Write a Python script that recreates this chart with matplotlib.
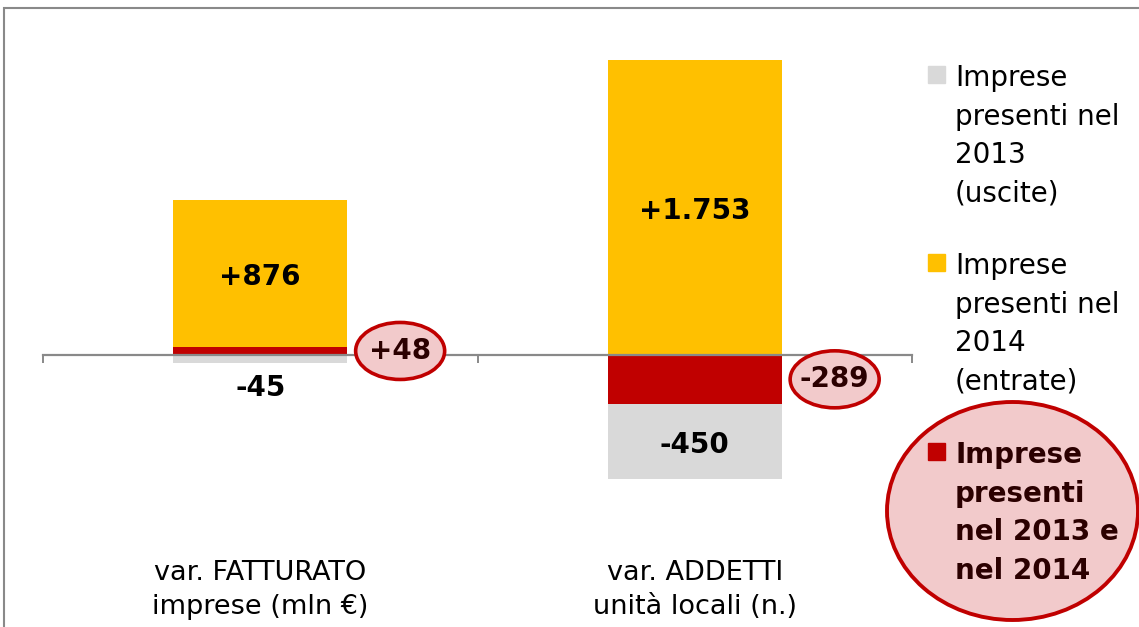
#=========================================================================
# imprese: variazione fatturato e addetti
#=========================================================================

import matplotlib.pyplot as plt
from matplotlib.patches import Rectangle, Ellipse
from matplotlib.transforms import IdentityTransform
import numpy as np

#-------------------------------------------------------------------------
# Raw data
#-------------------------------------------------------------------------

categories = [
  'var. FATTURATO\nimprese (mln \u20ac)',
  'var. ADDETTI\nunit\u00e0 locali (n.)',
]

uscite   = [ -45,  -450 ]   # imprese presenti nel 2013 (uscite)
entrate  = [ 876,  1753 ]   # imprese presenti nel 2014 (entrate)
entrambi = [  48,  -289 ]   # imprese presenti nel 2013 e nel 2014

series_labels = [
  'Imprese\npresenti nel\n2013\n(uscite)',
  'Imprese\npresenti nel\n2014\n(entrate)',
  'Imprese\npresenti\nnel 2013 e\nnel 2014',
]

#-------------------------------------------------------------------------
# Plot parameters
#-------------------------------------------------------------------------

W, H, DPI = 1139, 627, 100

c_grey   = '#d9d9d9'
c_orange = '#ffc000'
c_red    = '#c00000'
c_pink   = '#f2cacb'
c_dark   = '#2b0000'
c_axis   = '#898989'

plt.rcParams['font.family'] = 'DejaVu Sans'

fig = plt.figure( figsize=(W/DPI, H/DPI), dpi=DPI )

# axes placed in pixels: x 43..912, y 20..627 (from top)
ax = fig.add_axes( [ 43/W, 0.0, (912-43)/W, (627-20)/H ] )
px_per_unit = 295.0 / 1753.0
ax.set_xlim( -0.5, 1.5 )
ax.set_ylim( -(627-355)/px_per_unit, (355-20)/px_per_unit )

ind   = np.arange( len(categories) )
width = 0.4

#-------------------------------------------------------------------------
# Stacked bars (entrambi next to zero, then the others)
#-------------------------------------------------------------------------

pos = np.zeros( len(categories) )
neg = np.zeros( len(categories) )
segments = []
for vals, color in [ (entrambi, c_red), (entrate, c_orange), (uscite, c_grey) ]:
  vals = np.array( vals, dtype=float )
  bottom = np.where( vals >= 0, pos, neg )
  ax.bar( ind, vals, width, bottom=bottom, color=color, zorder=1 )
  segments.append( (vals, bottom) )
  pos += np.where( vals >= 0, vals, 0 )
  neg += np.where( vals < 0, vals, 0 )

def fmt( v ):
  return ( '%+d' % v ) if abs(v) < 1000 else \
         ( '%+d' % v )[:-3] + '.' + ( '%+d' % v )[-3:]

fig.canvas.draw()

# labels for entrate / uscite
for vals, bottom in segments[1:]:
  for i, (v, b) in enumerate( zip( vals, bottom ) ):
    seg_px = abs(v) * px_per_unit
    if seg_px > 40:
      ax.annotate( fmt(v), (i, b + v/2), xytext=(0, -4), textcoords='offset pixels',
                   ha='center', va='center', fontsize=20, fontweight='bold',
                   color='black' )
    else:
      ax.annotate( fmt(v), (i, 0), xytext=(0, -33), textcoords='offset pixels',
                   ha='center', va='center', fontsize=20, fontweight='bold',
                   color='black' )

# labels for entrambi, in pink ellipses right of the bar
vals, bottom = segments[0]
for i, (v, b) in enumerate( zip( vals, bottom ) ):
  x_px, y_px = ax.transData.transform( (i + width/2, b + v/2) )
  cx = x_px + 53
  ell = Ellipse( (cx, y_px), 89, 57, transform=IdentityTransform(),
                 facecolor=c_pink, edgecolor=c_red, lw=2.6, zorder=5 )
  fig.add_artist( ell )
  fig.text( cx/W, y_px/H, fmt(v), ha='center', va='center', fontsize=20,
            fontweight='bold', color=c_dark, zorder=6 )

#-------------------------------------------------------------------------
# Axes formatting
#-------------------------------------------------------------------------

for s in [ 'left', 'right', 'top' ]:
  ax.spines[s].set_visible( False )
ax.spines['bottom'].set_position( ('data', 0) )
ax.spines['bottom'].set_color( c_axis )
ax.spines['bottom'].set_linewidth( 1.6 )
ax.set_xticks( [ -0.5, 0.5, 1.5 ] )
ax.set_xticklabels( [] )
ax.tick_params( axis='x', direction='out', length=6, width=1.4, color=c_axis )
ax.set_yticks( [] )
ax.patch.set_visible( False )

# category labels
for i, cat in enumerate( categories ):
  ax.text( i, (627-590)/(627-20), cat, transform=ax.get_xaxis_transform(),
           ha='center', va='center', fontsize=19.5, linespacing=1.38 )

#-------------------------------------------------------------------------
# Legend (drawn by hand)
#-------------------------------------------------------------------------

fig.add_artist( Ellipse( (1012.5, H-511), 251, 218, transform=IdentityTransform(),
                         facecolor=c_pink, edgecolor=c_red, lw=2.8 ) )

leg_tops   = [ 65, 253, 442 ]
leg_colors = [ c_grey, c_orange, c_red ]
for k, (lab, col, top) in enumerate( zip( series_labels, leg_colors, leg_tops ) ):
  fig.add_artist( Rectangle( (928/W, 1 - (top+18)/H), 17/W, 17/H,
                             transform=fig.transFigure, color=col ) )
  bold = ( k == 2 )
  fig.text( 955/W, 1 - (top-1)/H, lab, ha='left', va='top', fontsize=20,
            linespacing=1.48, fontweight='bold' if bold else 'normal',
            color=c_dark if bold else 'black' )

# outer frame (cropped chart area)
fig.add_artist( Rectangle( (4/W, -0.2), 1.2, 1.2 - 8/H + 0.0,
                           transform=fig.transFigure, fill=False,
                           edgecolor=c_axis, lw=1.5 ) )

fig.savefig( 'out.png', dpi=DPI )
